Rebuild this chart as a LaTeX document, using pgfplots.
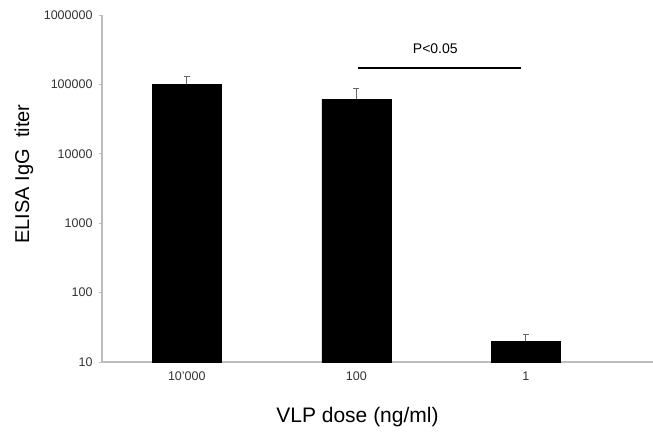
\documentclass[border=0pt]{standalone}
\usepackage{fontspec}
\setmainfont{Liberation Sans}
\usepackage{pgfplots}
\pgfplotsset{compat=1.18}
\definecolor{AxGray}{HTML}{BDBDBD}

\begin{document}
\begin{tikzpicture}
\begin{axis}[
  at={(0,0)}, anchor=south west,
  scale only axis, width=551pt, height=347pt,
  xmin=-0.5, xmax=2.75,
  ymode=log, ymin=10, ymax=1000000, log basis y=10,
  log origin=infty,
  axis x line*=bottom, axis y line*=left,
  axis line style={AxGray, line width=1.4pt, -},
  ytick={10,100,1000,10000,100000,1000000},
  yticklabels={10,100,1000,10000,100000,1000000},
  yminorticks=false,
  xtick={0,1,2},
  xticklabels={10'000,100,1},
  major x tick style={draw=none},
  extra x ticks={0.5,1.5},
  extra x tick labels={},
  extra x tick style={major tick length=3pt, tick style={AxGray, line width=1pt}},
  ytick style={AxGray, line width=1pt},
  tick align=outside, major tick length=3pt,
  ytick pos=left, xtick pos=bottom,
  tick label style={font=\fontsize{12.5}{12.5}\selectfont, color=black!80},
  yticklabel style={xshift=-3pt},
  xticklabel style={yshift=-3pt},
  ybar, bar width=69pt,
  clip=false,
]
\addplot[fill=black, draw=black,
  error bars/.cd, y dir=plus, y explicit,
  error bar style={black!60, line width=1pt},
  error mark options={rotate=90, mark size=3pt, black!60, line width=1pt}]
  coordinates {
  (0,100000) +- (0,30000)
  (1,61000) +- (0,27000)
  (2,20) +- (0,5)
};
\draw[black, line width=2pt] (axis cs:1.012,170000) -- (axis cs:1.973,170000);
\node[font=\fontsize{14}{14}\selectfont] at (axis cs:1.466,330000) {P<0.05};
\end{axis}
\node[rotate=90, font=\fontsize{20}{20}\selectfont] at (-78pt,188pt) {ELISA IgG\ \ titer};
\node[font=\fontsize{21}{21}\selectfont] at (255.5pt,-55pt) {VLP dose (ng/ml)};
\pgfresetboundingbox
\path[use as bounding box] (-102pt,-70pt) rectangle (551pt,362pt);
\end{tikzpicture}
\end{document}
